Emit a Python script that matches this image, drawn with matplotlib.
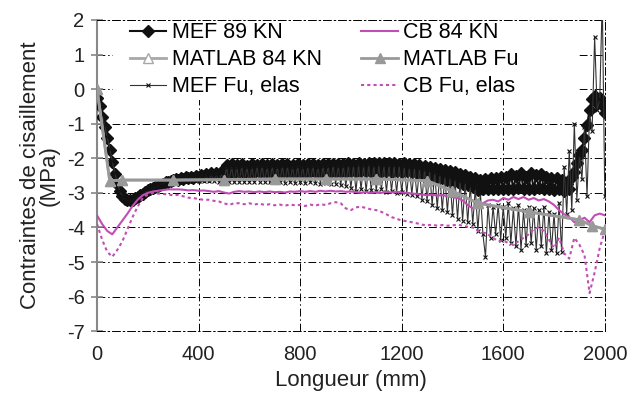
import numpy as np
import matplotlib
matplotlib.use("Agg")
from matplotlib import pyplot as plt
from matplotlib.patches import Rectangle

plt.rcParams['font.family'] = ['Liberation Sans', 'DejaVu Sans']
plt.rcParams['axes.unicode_minus'] = False

# FE results on a 10 mm mesh (x = 0 .. 2000)
step_fe = 10
mef_89 = [
    -0.25, -0.5, -0.8, -1.1, -1.4, -1.75, -2.1, -2.45, -2.75, -2.95,
    -3.1, -3.18, -3.22, -3.22, -3.2, -3.16, -3.12, -3.07, -3.02, -2.98,
    -2.93, -2.9, -2.86, -2.83, -2.79, -2.76, -2.73, -2.7, -2.68, -2.65,
    -2.63, -2.6, -2.62, -2.57, -2.6, -2.55, -2.58, -2.53, -2.56, -2.5,
    -2.54, -2.48, -2.52, -2.46, -2.5, -2.44, -2.48, -2.42, -2.47, -2.4,
    -2.45, -2.2, -2.42, -2.18, -2.43, -2.2, -2.4, -2.18, -2.42, -2.21,
    -2.41, -2.18, -2.43, -2.19, -2.4, -2.17, -2.42, -2.2, -2.41, -2.18,
    -2.42, -2.19, -2.4, -2.18, -2.43, -2.17, -2.41, -2.19, -2.42, -2.18,
    -2.4, -2.2, -2.42, -2.18, -2.41, -2.17, -2.4, -2.19, -2.42, -2.18,
    -2.4, -2.18, -2.41, -2.16, -2.4, -2.18, -2.39, -2.17, -2.41, -2.15,
    -2.38, -2.16, -2.4, -2.14, -2.38, -2.16, -2.37, -2.13, -2.39, -2.15,
    -2.38, -2.14, -2.4, -2.13, -2.37, -2.15, -2.39, -2.14, -2.38, -2.16,
    -2.4, -2.15, -2.38, -2.17, -2.41, -2.18, -2.42, -2.2, -2.45, -2.22,
    -2.48, -2.25, -2.52, -2.28, -2.55, -2.31, -2.58, -2.35, -2.62, -2.38,
    -2.66, -2.41, -2.7, -2.45, -2.74, -2.48, -2.78, -2.53, -2.83, -2.58,
    -2.92, -2.62, -2.9, -2.6, -2.88, -2.56, -2.9, -2.58, -2.88, -2.55,
    -2.9, -2.53, -2.88, -2.46, -2.9, -2.5, -2.87, -2.44, -2.9, -2.53,
    -2.88, -2.43, -2.9, -2.48, -2.87, -2.45, -2.9, -2.53, -2.88, -2.56,
    -2.92, -2.58, -2.9, -2.63, -2.95, -2.73, -2.88, -2.55, -2.4, -2.15,
    -1.9, -1.75, -1.4, -1.05, -0.6, -0.3, -0.2, -0.4, -0.25, -0.45,
    -0.7,
]
mef_fu = [
    -0.2, -0.45, -0.75, -1.05, -1.38, -1.72, -2.08, -2.42, -2.72, -2.95,
    -3.1, -3.2, -3.24, -3.24, -3.22, -3.18, -3.13, -3.08, -3.03, -2.99,
    -2.95, -2.91, -2.88, -2.84, -2.8, -2.77, -2.74, -2.71, -2.69, -2.66,
    -2.64, -2.62, -2.63, -2.6, -2.62, -2.58, -2.63, -2.56, -2.64, -2.55,
    -2.66, -2.5, -2.66, -2.48, -2.67, -2.46, -2.66, -2.45, -2.68, -2.44,
    -2.68, -2.25, -2.68, -2.24, -2.69, -2.25, -2.68, -2.23, -2.7, -2.25,
    -2.68, -2.24, -2.7, -2.23, -2.68, -2.22, -2.69, -2.24, -2.7, -2.23,
    -2.69, -2.24, -2.7, -2.22, -2.71, -2.23, -2.7, -2.24, -2.72, -2.22,
    -2.7, -2.24, -2.72, -2.23, -2.7, -2.22, -2.72, -2.24, -2.73, -2.22,
    -2.72, -2.22, -2.75, -2.2, -2.74, -2.22, -2.78, -2.21, -2.8, -2.2,
    -2.85, -2.2, -2.95, -2.18, -2.9, -2.2, -2.95, -2.18, -2.92, -2.2,
    -2.95, -2.18, -2.9, -2.2, -2.97, -2.19, -2.95, -2.2, -3.0, -2.2,
    -2.98, -2.22, -3.02, -2.24, -3.05, -2.25, -3.1, -2.28, -3.2, -2.3,
    -3.25, -2.35, -3.35, -2.4, -3.45, -2.45, -3.5, -2.5, -3.55, -2.55,
    -3.65, -2.6, -3.75, -2.65, -3.8, -2.7, -3.85, -2.8, -3.9, -2.85,
    -4.1, -3.0, -4.2, -4.85, -3.35, -4.3, -3.4, -4.2, -3.35, -4.35,
    -3.4, -4.3, -3.3, -4.45, -3.45, -4.55, -3.35, -4.65, -3.5, -4.5,
    -3.4, -4.45, -3.45, -4.65, -3.5, -4.55, -3.4, -4.75, -3.55, -4.65,
    -3.6, -4.75, -3.3, -4.7, -2.25, -3.6, -1.8, -3.5, -1.0, -3.2,
    -1.9, -2.6, -1.1, -3.1, -0.7, -1.2, 1.5, -0.6, -0.3, 2.6,
    -3.1,
]

# closed-form (CB) results on a 20 mm grid
step_cb = 20
cb_84 = [
    -3.65, -3.9, -4.1, -4.2, -4.0, -3.8, -3.6, -3.38, -3.2, -3.07,
    -3.0, -2.96, -2.94, -2.92, -2.9, -2.9, -2.9, -2.91, -2.93, -2.92,
    -2.94, -2.93, -2.95, -2.97, -2.95, -2.99, -3.02, -2.97, -2.95, -2.97,
    -2.96, -2.98, -2.96, -2.98, -2.96, -2.98, -2.97, -2.99, -2.96, -2.97,
    -2.95, -2.97, -2.95, -2.97, -2.94, -2.96, -2.94, -2.96, -2.95, -2.97,
    -2.96, -2.98, -3.0, -2.98, -3.0, -2.98, -3.0, -2.97, -2.99, -2.97,
    -2.99, -3.0, -3.02, -3.03, -3.05, -3.07, -3.05, -3.08, -3.06, -3.1,
    -3.12, -3.15, -3.22, -3.35, -3.45, -3.4, -3.3, -3.22, -3.2, -3.25,
    -3.15, -3.2, -3.12, -3.18, -3.12, -3.2, -3.15, -3.22, -3.18, -3.25,
    -3.35, -3.5, -3.62, -3.7, -3.85, -3.8, -3.72, -3.85, -3.65, -3.6,
    -3.65,
]
cb_fu = [
    -3.9, -4.35, -4.7, -4.85, -4.65, -4.4, -4.05, -3.7, -3.4, -3.15,
    -3.05, -3.0, -3.02, -3.03, -3.05, -3.07, -3.06, -3.1, -3.14, -3.15,
    -3.18, -3.2, -3.2, -3.23, -3.25, -3.3, -3.35, -3.3, -3.3, -3.33,
    -3.3, -3.34, -3.31, -3.35, -3.33, -3.36, -3.34, -3.37, -3.34, -3.36,
    -3.35, -3.38, -3.34, -3.37, -3.33, -3.35, -3.3, -3.27, -3.3, -3.45,
    -3.5, -3.42, -3.4, -3.44, -3.48, -3.5, -3.55, -3.62, -3.7, -3.75,
    -3.8, -3.82, -3.85, -3.88, -3.92, -3.94, -3.92, -3.95, -3.93, -3.95,
    -3.94, -3.92, -3.95, -3.98, -4.0, -4.1, -4.15, -4.2, -4.3, -4.4,
    -4.38, -4.45, -4.5, -4.4, -4.3, -4.2, -4.05, -4.0, -4.1, -4.35,
    -4.6, -4.3, -4.75, -4.9, -4.3, -4.5, -4.8, -5.9, -5.3, -4.6,
    -4.1,
]

# MATLAB model
matlab_x = [0, 50, 100, 300, 500, 700, 900, 1100, 1300, 1400, 1500, 1700, 1900, 1950, 2000]
matlab_84 = [0, -2.65, -2.63, -2.63, -2.62, -2.6, -2.6, -2.6, -2.65, -2.95, -3.3, -3.55, -3.78, -3.95, -4.05]
matlab_fu = [0, -2.65, -2.63, -2.63, -2.62, -2.6, -2.6, -2.6, -2.65, -2.95, -3.3, -3.55, -3.78, -3.95, -4.05]

x_fe = np.arange(len(mef_89)) * step_fe
x_cb = np.arange(len(cb_84)) * step_cb

magenta = '#c04eb4'
txt = '#222222'

fig = plt.figure(figsize=(6.3, 3.99), dpi=100)
ax = fig.add_axes([0.154, 0.170, 0.806, 0.780])

l1, = ax.plot(x_fe, mef_89, color='#111111', lw=1.5, marker='D', ms=6, label='MEF 89 KN', zorder=3)
l5, = ax.plot(x_fe, mef_fu, color='#333333', lw=0.8, marker='x', ms=3, mew=0.8,
              mec='#111111', label='MEF Fu, elas', zorder=4)
l2, = ax.plot(x_cb, cb_84, color=magenta, lw=1.5, label='CB 84 KN', zorder=5)
l6, = ax.plot(x_cb, cb_fu, color=magenta, lw=1.5, ls=(0, (1.5, 1.5)), label='CB Fu, elas', zorder=5)
l3, = ax.plot(matlab_x, matlab_84, color='#a8a8a8', lw=2, marker='^', ms=7, mfc='white',
              mec='#a8a8a8', label='MATLAB 84 KN', zorder=6)
l4, = ax.plot(matlab_x, matlab_fu, color='#999999', lw=2, marker='^', ms=7, mfc='#999999',
              mec='#999999', label='MATLAB Fu', zorder=6)

ax.set_xlim(0, 2000)
ax.set_ylim(-7, 2)
ax.set_xticks([0, 400, 800, 1200, 1600, 2000])
ax.set_yticks(range(-7, 3))

dashdot = (0, (8, 3, 1.5, 3))
ax.grid(True, color='black', lw=0.7, linestyle=dashdot)
ax.set_axisbelow(True)
for side in ['top', 'right', 'bottom']:
    ax.spines[side].set_color('black')
    ax.spines[side].set_linewidth(0.7)
    ax.spines[side].set_linestyle(dashdot)
ax.spines['left'].set_color('#888888')
ax.spines['left'].set_linewidth(1.5)

# white area behind the legend hides the grid there
ax.add_patch(Rectangle((0.032, 0.743), 0.913, 0.252, transform=ax.transAxes,
                       facecolor='white', edgecolor='none', zorder=1))

ax.tick_params(axis='y', direction='inout', length=8, width=1.2, color='#888888',
               labelsize=14.5, pad=5, labelcolor=txt)
ax.tick_params(axis='x', length=0, labelsize=14.5, pad=10, labelcolor=txt)

ax.set_xlabel('Longueur (mm)', fontsize=16, color=txt, labelpad=4)
ax.set_ylabel('Contraintes de cisaillement\n(MPa)', fontsize=16, color=txt,
              linespacing=0.85, labelpad=5)

ax.legend(handles=[l1, l3, l5, l2, l4, l6], ncol=2, loc='upper left',
          bbox_to_anchor=(0.06, 1.0), frameon=False, fontsize=15.5,
          handlelength=1.7, handletextpad=0.25, columnspacing=1.85,
          labelspacing=0.28, borderaxespad=0, borderpad=0.1)

plt.savefig('out.png', dpi=100)
